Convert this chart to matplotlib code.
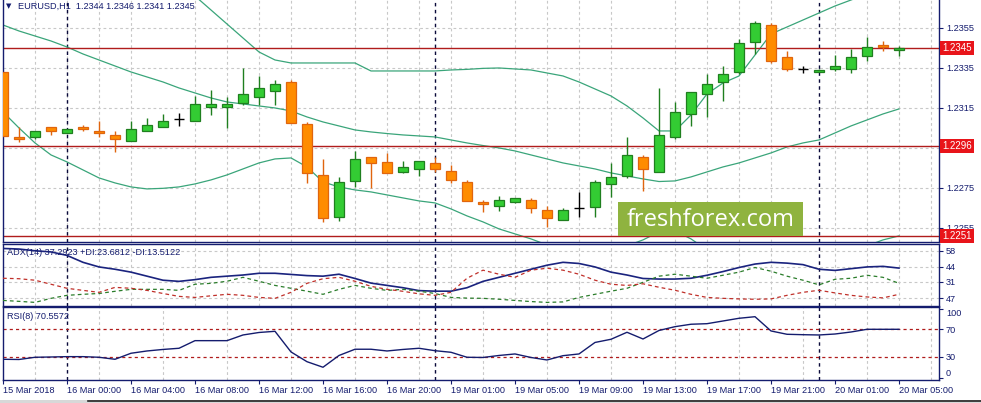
import numpy as np
import matplotlib
matplotlib.use("Agg")
import matplotlib.pyplot as plt
from matplotlib.patches import Rectangle
import matplotlib.transforms as mtransforms

plt.rcParams['font.family'] = ['Liberation Sans', 'DejaVu Sans']

# ---- data (EURUSD H1, 15 Mar 20:00 .. 20 Mar 05:00) ----
opens = [1.2333, 1.23005, 1.23005, 1.23055, 1.23025, 1.23055, 1.23035, 1.23015, 1.22985, 1.23035,
         1.23055, 1.23095, 1.23085, 1.23155, 1.23155, 1.23175, 1.23205, 1.23235, 1.2328, 1.2307,
         1.22815, 1.22605, 1.22785, 1.22905, 1.2288, 1.2283, 1.22845, 1.22875, 1.22835, 1.2278,
         1.2268, 1.2266, 1.2268, 1.2269, 1.2264, 1.2259, 1.2265, 1.22655, 1.2277, 1.2281,
         1.22905, 1.2283, 1.23005, 1.2312, 1.2322, 1.2328, 1.2333, 1.2348, 1.23565, 1.23405,
         1.23345, 1.2333, 1.23345, 1.23345, 1.2341, 1.23465, 1.2344]
highs = [1.2333, 1.23055, 1.23035, 1.23055, 1.23045, 1.23065, 1.23085, 1.23035, 1.23085, 1.231,
         1.2312, 1.23125, 1.2321, 1.2324, 1.23205, 1.2335, 1.2331, 1.2329, 1.2329, 1.2308,
         1.22895, 1.22805, 1.22935, 1.22905, 1.22925, 1.22885, 1.22885, 1.22905, 1.22865, 1.2279,
         1.2269, 1.2271, 1.227, 1.227, 1.2266, 1.2265, 1.2273, 1.2279, 1.22875, 1.23005,
         1.22915, 1.2325, 1.2318, 1.2323, 1.2332, 1.2336, 1.23495, 1.23585, 1.23575, 1.23435,
         1.2336, 1.23345, 1.23415, 1.23445, 1.23505, 1.23485, 1.2346]
lows = [1.2301, 1.2298, 1.22995, 1.23015, 1.23025, 1.23035, 1.23005, 1.2293, 1.22985, 1.23035,
        1.23055, 1.2306, 1.23085, 1.23115, 1.2305, 1.23165, 1.23165, 1.23165, 1.23075, 1.22775,
        1.2258, 1.22585, 1.22755, 1.2275, 1.22825, 1.22825, 1.2281, 1.2283, 1.22775, 1.22685,
        1.2263, 1.22635, 1.22675, 1.22625, 1.22555, 1.2259, 1.22605, 1.22605, 1.22705, 1.228,
        1.22735, 1.2283, 1.22995, 1.2306, 1.23105, 1.23185, 1.2332, 1.2342, 1.23375, 1.23335,
        1.23325, 1.2333, 1.23335, 1.23325, 1.23385, 1.23435, 1.2341]
closes = [1.2301, 1.22995, 1.23035, 1.23035, 1.23045, 1.23045, 1.23025, 1.22995, 1.23045, 1.23065,
          1.23085, 1.23095, 1.2317, 1.2317, 1.2317, 1.2322, 1.2325, 1.2327, 1.23075, 1.22825,
          1.226, 1.2278, 1.22895, 1.22875, 1.22825, 1.22855, 1.22885, 1.22845, 1.2279, 1.22685,
          1.2267, 1.2269, 1.227, 1.2265, 1.226, 1.2264, 1.2265, 1.2278, 1.22805, 1.22915,
          1.22845, 1.23015, 1.2313, 1.2323, 1.2327, 1.2332, 1.23475, 1.23575, 1.23385, 1.23345,
          1.23345, 1.2334, 1.2336, 1.23405, 1.23455, 1.23455, 1.2345]

bb_upper = [np.nan] * 11 + [
    1.23785, 1.2371, 1.2364, 1.2357, 1.235, 1.2343, 1.2339, 1.23375, 1.23375, 1.23375,
    1.23375, 1.23375, 1.23335, 1.23335, 1.23335, 1.23335, 1.23335, 1.2334, 1.23343, 1.23348,
    1.2335, 1.23345, 1.2334, 1.23325, 1.2331, 1.2328, 1.23245, 1.2321, 1.2316, 1.231,
    1.23035, 1.23035, 1.23115, 1.2322, 1.23275, 1.2331, 1.23415, 1.2352, 1.23555, 1.2359,
    1.23625, 1.2366, 1.2369, 1.2372, 1.2375, 1.2378]
bb_middle = [1.23565, 1.23535, 1.2351, 1.23485, 1.23455, 1.2342, 1.2339, 1.2336, 1.2333, 1.23305,
             1.2328, 1.2325, 1.23225, 1.232, 1.2318, 1.2317, 1.2316, 1.2315, 1.23135, 1.23105,
             1.2308, 1.2306, 1.2304, 1.2303, 1.23022, 1.23015, 1.2301, 1.23005, 1.2299, 1.22975,
             1.22962, 1.2295, 1.22935, 1.22915, 1.22895, 1.22875, 1.2286, 1.22845, 1.22825, 1.2281,
             1.22795, 1.22782, 1.22785, 1.22805, 1.2283, 1.22855, 1.22875, 1.229, 1.22925, 1.22955,
             1.22975, 1.2299, 1.23025, 1.2306, 1.2309, 1.2312, 1.23145]
bb_lower = [1.2313, 1.2305, 1.22975, 1.22915, 1.2288, 1.2284, 1.228, 1.22775, 1.22755, 1.22745,
            1.22748, 1.22755, 1.2277, 1.2279, 1.22815, 1.22845, 1.22875, 1.22895, 1.229, 1.22855,
            1.2278, 1.22755, 1.2274, 1.2273, 1.22715, 1.227, 1.22685, 1.22675, 1.22645, 1.2261,
            1.2258, 1.22545, 1.2252, 1.22495, 1.22465, 1.2244, 1.2244, 1.22445, 1.2244, 1.2246,
            1.2249, 1.2253, 1.22535, 1.22495, 1.2244, 1.22435, 1.2244, 1.22385, 1.2233, 1.22355,
            1.2236, 1.22355, 1.2239, 1.2243, 1.2246, 1.2249, 1.2251]

adx = [60, 59.5, 58, 57, 54, 48, 44, 42, 39.5, 36,
       32.5, 31.5, 33, 35, 36, 37, 38.5, 38.5, 37.5, 36.5,
       36, 37.7, 34, 30, 28, 26, 23.5, 23, 23, 26,
       31.5, 35, 38.5, 42, 45.5, 48, 47, 44, 39.5, 37,
       34, 33.5, 33.5, 34.2, 36.8, 40, 43.5, 46.5, 48, 47.3,
       46, 42, 41, 42.5, 44, 44.5, 43]
plus_di = [15, 14.2, 13.3, 16.8, 19.4, 20.3, 21, 22.9, 24.6, 24.6,
           24.6, 23.7, 29, 29.8, 31.6, 35, 31.6, 28, 25.5, 23,
           20.3, 24.6, 28, 25.5, 23.7, 24.6, 23, 21, 17.6, 17,
           16.8, 16, 15, 14, 13.3, 13.7, 17.6, 20.3, 23, 25.5,
           30.7, 36, 37.7, 36, 34.2, 36.8, 39.5, 43.5, 40.3, 36,
           32.5, 28.5, 33.3, 34.2, 36.8, 35, 29.8]
minus_di = [34.2, 33.8, 32.5, 29, 25.5, 23.7, 22, 26.3, 25.5, 23.7,
            21, 18.5, 17.6, 19, 20.3, 19.4, 17.6, 16.8, 22, 29.8,
            33.8, 35, 31.6, 27.2, 24.6, 22.9, 20.7, 19.4, 22, 34.2,
            41.2, 37.7, 35, 41.2, 42.9, 41.2, 37.7, 32.5, 29, 28,
            29.4, 26.4, 23.8, 20.3, 17.6, 16.8, 16.3, 16, 16.3, 19.4,
            22, 23.8, 21.5, 19.4, 18, 17.2, 20.3]
rsi = [26.7, 26.4, 29.6, 30, 30.5, 30.5, 29.6, 26.7, 35.4, 38.7,
       40.9, 42.6, 53.6, 53.6, 53.6, 61.8, 65.4, 67.1, 37.3, 23.2,
       15.2, 32.2, 41.2, 41.2, 38.7, 40.9, 42.6, 39.1, 36.8, 29.6,
       29.3, 32.2, 34.4, 29.3, 25.7, 31.9, 34.4, 51, 55.6, 65.7,
       56, 68.3, 73.8, 77.3, 78.1, 82, 85.9, 88.2, 67.6, 62.8,
       62.2, 61.8, 63.2, 66.1, 70, 70, 70]

levels = [1.2345, 1.2296, 1.2251]
price_ticks = [1.2355, 1.2335, 1.2315, 1.2295, 1.2275, 1.2255]
price_tick_labels = ["1.2355", "1.2335", "1.2315", "", "1.2275", "1.2255"]  # 1.2295 sits under the 1.2296 box
adx_ticks = [58, 44, 31, 17]
adx_tick_labels = ["58", "44", "31", "47"]
rsi_ticks = [100, 70, 30, 0]
time_labels = ["15 Mar 2018", "16 Mar 00:00", "16 Mar 04:00", "16 Mar 08:00", "16 Mar 12:00",
               "16 Mar 16:00", "16 Mar 20:00", "19 Mar 01:00", "19 Mar 05:00", "19 Mar 09:00",
               "19 Mar 13:00", "19 Mar 17:00", "19 Mar 21:00", "20 Mar 01:00", "20 Mar 05:00"]
day_breaks = [4, 27, 51]

# ---- figure layout in pixels ----
W, H = 981, 403
fig = plt.figure(figsize=(W / 100, H / 100), dpi=100)
fig.patch.set_facecolor("white")

def rect(x0, y0, x1, y1):
    return [x0 / W, 1 - y1 / H, (x1 - x0) / W, (y1 - y0) / H]

NAVY = "#141c6e"
GRID = "#c8c8c8"
ax_main = fig.add_axes(rect(2.5, 0, 939, 241.5))
ax_adx = fig.add_axes(rect(2.5, 243.5, 939, 305.5))
ax_rsi = fig.add_axes(rect(2.5, 307, 939, 379.5))

idx = np.arange(len(opens))
xlim = (-0.031, 58.5)

for ax in (ax_main, ax_adx, ax_rsi):
    ax.set_xlim(*xlim)
    ax.set_facecolor("white")
    for sp in ax.spines.values():
        sp.set_color(NAVY)
        sp.set_linewidth(1.0)
    ax.yaxis.tick_right()
    ax.tick_params(axis='y', length=3, width=0.8, color=NAVY, labelcolor=NAVY,
                   labelsize=6.6, pad=2)
    ax.set_xticks(range(0, 59, 2), minor=True)
    ax.grid(which='minor', axis='x', color=GRID, lw=0.8, ls=(0, (2.5, 2.5)))
    ax.grid(which='major', axis='y', color=GRID, lw=0.8, ls=(0, (2.5, 2.5)))
    for d in day_breaks:
        ax.axvline(d, color="#0a0a3a", lw=1.0, ls=(0, (2.5, 2.5)), zorder=1)
    ax.set_axisbelow(True)

ax_main.spines['top'].set_visible(False)
for ax in (ax_main, ax_adx):
    ax.tick_params(axis='x', which='both', length=0, labelbottom=False)
ax_rsi.tick_params(axis='x', which='minor', length=0)

# ---- main price panel ----
ax_main.set_ylim(1.22482, 1.2369)
ax_main.set_yticks(price_ticks, price_tick_labels)

ax_main.plot(idx, bb_upper, color="#3aa57a", lw=0.9, zorder=2)
ax_main.plot(idx, bb_middle, color="#3aa57a", lw=0.9, zorder=2)
ax_main.plot(idx, bb_lower, color="#3aa57a", lw=0.9, zorder=2)

for lv in levels:
    ax_main.axhline(lv, color="#b01c1c", lw=1.0, zorder=2)

o = np.array(opens); c = np.array(closes)
hi = np.array(highs); lo = np.array(lows)
bull = c > o
bear = c < o
doji = c == o
wick_col = np.where(bull, "#1f7f1f", np.where(bear, "#e0650e", "black"))
ax_main.vlines(idx, lo, hi, colors=wick_col, lw=1.0, zorder=3)
ax_main.bar(idx[bull], (c - o)[bull], bottom=o[bull], width=0.62,
            color="#33cc33", edgecolor="#1f7f1f", lw=0.9, zorder=4)
ax_main.bar(idx[bear], (o - c)[bear], bottom=c[bear], width=0.62,
            color="#ff8c00", edgecolor="#e0650e", lw=0.9, zorder=4)
ax_main.hlines(c[doji], idx[doji] - 0.34, idx[doji] + 0.34, colors="black", lw=1.0, zorder=4)

# price labels in red boxes
btr = mtransforms.blended_transform_factory(fig.transFigure, ax_main.transData)
for lv in levels:
    ax_main.text(942 / W, lv, f"{lv:.4f}", transform=btr, ha='left', va='center',
                 fontsize=7, color="white", clip_on=False, zorder=10,
                 bbox=dict(boxstyle="square,pad=0.22", facecolor="#e8141a", edgecolor="none"))

# ---- ADX panel ----
ax_adx.set_ylim(10.6, 64.3)
ax_adx.set_yticks(adx_ticks, adx_tick_labels)
ax_adx.plot(idx, adx, color="#1a237e", lw=1.2, zorder=3)
ax_adx.plot(idx, plus_di, color="#2b7d2b", lw=0.9, ls=(0, (3, 2.5)), zorder=3)
ax_adx.plot(idx, minus_di, color="#c0302a", lw=0.9, ls=(0, (3, 2.5)), zorder=3)

# ---- RSI panel ----
ax_rsi.set_ylim(-2.5, 102.2)
ax_rsi.set_yticks(rsi_ticks, [str(t) for t in rsi_ticks])
ax_rsi.grid(False, axis='y')
labs = ax_rsi.get_yticklabels()
labs[0].set_va('top')
labs[-1].set_va('bottom')
for lv in (70, 30):
    ax_rsi.axhline(lv, color="#b01c1c", lw=0.9, ls=(0, (2.5, 2.5)), zorder=2)
ax_rsi.plot(idx, rsi, color="#141c6e", lw=1.0, zorder=3)

ax_rsi.set_xticks(range(0, 57, 4), time_labels)
ax_rsi.tick_params(axis='x', which='major', length=3, width=0.8, color=NAVY,
                   labelcolor=NAVY, labelsize=6.6, pad=2)
for t in ax_rsi.get_xticklabels():
    t.set_ha('left')

# ---- texts ----
fig.text(9 / W, 1 - 6 / H, "\u25bc", ha='center', va='center', fontsize=5, color=NAVY,
         family=['DejaVu Sans'])
fig.text(18 / W, 1 - 6.5 / H, "EURUSD,H1  1.2344 1.2346 1.2341 1.2345", ha='left', va='center',
         fontsize=6.6, color=NAVY)
fig.text(7 / W, 1 - 252.5 / H, "ADX(14) 37.2923 +DI:23.6812 -DI:13.5122", ha='left', va='center',
         fontsize=6.6, color=NAVY)
fig.text(7 / W, 1 - 316.5 / H, "RSI(8) 70.5572", ha='left', va='center',
         fontsize=6.6, color=NAVY)

# watermark
fig.add_artist(Rectangle((618 / W, 1 - 236 / H), 185 / W, 34 / H, transform=fig.transFigure,
                         facecolor="#8fb33f", edgecolor="none", zorder=5))
fig.text(710.5 / W, 1 - 219.5 / H, "freshforex.com", ha='center', va='center', fontsize=17,
         color="white", family=['Open Sans', 'DejaVu Sans'], zorder=6)

# bottom tab strip
fig.add_artist(Rectangle((0, 0), 1, 3 / H, transform=fig.transFigure,
                         facecolor="#d8d8d8", edgecolor="none", zorder=5))
fig.add_artist(plt.Line2D([88 / W, 1], [1 - 400.5 / H] * 2, transform=fig.transFigure,
                          color="#222222", lw=1.2, zorder=6))

fig.savefig("out.png", dpi=100)
